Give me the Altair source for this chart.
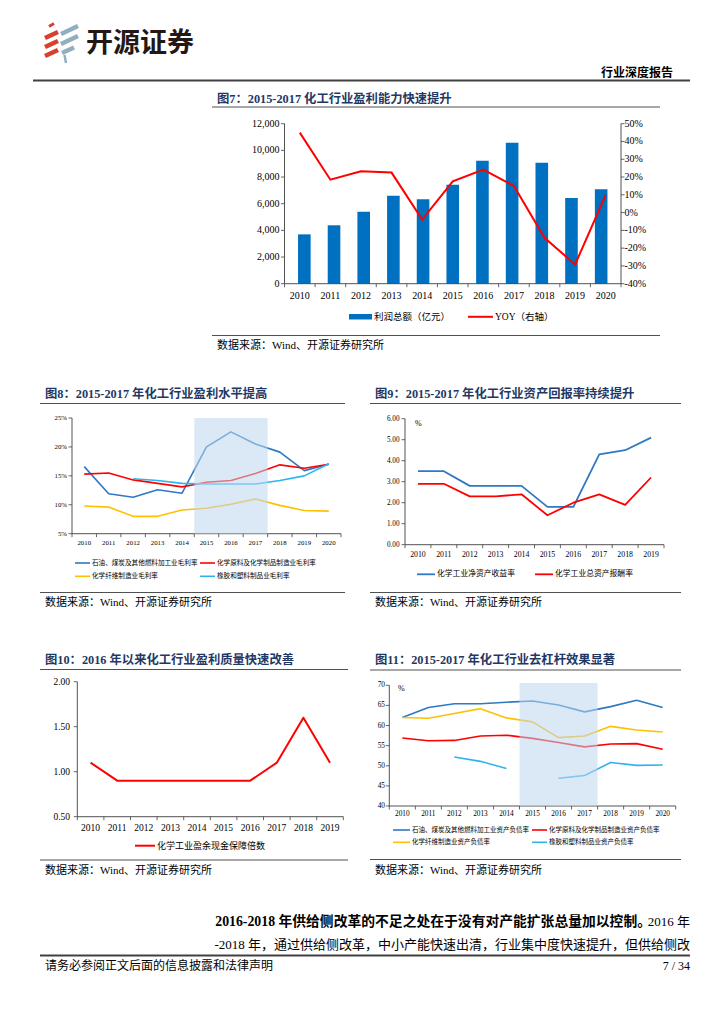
import altair as alt
import pandas as pd

# ---------------- data ----------------
years_a = [2010, 2011, 2012, 2013, 2014, 2015, 2016, 2017, 2018, 2019, 2020]
years_b = [2010, 2011, 2012, 2013, 2014, 2015, 2016, 2017, 2018, 2019]

fig7_profit = [3700, 4380, 5400, 6600, 6330, 7420, 9220, 10580, 9080, 6430, 7080]
fig7_yoy = [45.0, 18.5, 23.2, 22.5, -3.9, 17.6, 24.2, 15.0, -14.2, -29.2, 10.0]
fig7_left_ticks = [0, 2000, 4000, 6000, 8000, 10000, 12000]
fig7_left_labels = ["0", "2,000", "4,000", "6,000", "8,000", "10,000", "12,000"]
fig7_right_ticks = [-40, -30, -20, -10, 0, 10, 20, 30, 40, 50]
fig7_right_labels = ["-40%", "-30%", "-20%", "-10%", "0%", "10%", "20%", "30%", "40%", "50%"]
fig7_legend = ["利润总额（亿元）", "YOY（右轴）"]

fig8_names = ["石油、煤炭及其他燃料加工业毛利率", "化学原料及化学制品制造业毛利率",
              "化学纤维制造业毛利率", "橡胶和塑料制品业毛利率"]
fig8_petro = [16.6, 11.9, 11.3, 12.6, 12.0, 20.0, 22.6, 20.5, 19.1, 15.9, 17.0]
fig8_chem = [15.3, 15.5, 14.3, 13.7, 13.1, 13.9, 14.2, 15.4, 16.9, 16.3, 17.0]
fig8_fiber = [9.8, 9.6, 8.0, 8.0, 9.1, 9.4, 10.1, 11.0, 9.9, 9.0, 8.9]
fig8_rubber = [None, None, 14.5, 14.2, 13.7, 13.6, 13.6, 13.6, 14.2, 15.0, 17.1]
fig8_ticks = [5, 10, 15, 20, 25]
fig8_labels = ["5%", "10%", "15%", "20%", "25%"]
shade_years = [2015, 2017]

fig9_names = ["化学工业净资产收益率", "化学工业总资产报酬率"]
fig9_roe = [3.5, 3.5, 2.8, 2.8, 2.8, 1.8, 1.8, 4.3, 4.5, 5.1]
fig9_roa = [2.9, 2.9, 2.3, 2.3, 2.4, 1.4, 2.0, 2.4, 1.9, 3.2]
fig9_ticks = [0, 1, 2, 3, 4, 5, 6]
fig9_labels = ["0.00", "1.00", "2.00", "3.00", "4.00", "5.00", "6.00"]

fig10_names = ["化学工业盈余现金保障倍数"]
fig10_vals = [1.1, 0.9, 0.9, 0.9, 0.9, 0.9, 0.9, 1.1, 1.6, 1.1]
fig10_ticks = [0.5, 1.0, 1.5, 2.0]
fig10_labels = ["0.50", "1.00", "1.50", "2.00"]

fig11_names = ["石油、煤炭及其他燃料加工业资产负债率", "化学原料及化学制品制造业资产负债率",
               "化学纤维制造业资产负债率", "橡胶和塑料制品业资产负债率"]
fig11_petro = [62.0, 64.5, 65.4, 65.4, 65.8, 66.1, 65.1, 63.4, 64.7, 66.3, 64.5]
fig11_chem = [56.9, 56.2, 56.3, 57.4, 57.6, 56.8, 55.8, 54.7, 55.4, 55.5, 54.1]
fig11_fiber = [62.0, 61.8, 63.0, 64.2, 61.9, 60.9, 57.0, 57.4, 59.8, 58.9, 58.4]
fig11_rubber = [None, None, 52.2, 51.1, 49.3, None, 46.9, 47.6, 50.8, 50.1, 50.2]
fig11_ticks = [40, 45, 50, 55, 60, 65, 70]
fig11_labels = ["40", "45", "50", "55", "60", "65", "70"]

titles = ["图7：2015-2017 化工行业盈利能力快速提升",
          "图8：2015-2017 年化工行业盈利水平提高",
          "图9：2015-2017 年化工行业资产回报率持续提升",
          "图10：2016 年以来化工行业盈利质量快速改善",
          "图11：2015-2017 年化工行业去杠杆效果显著"]
source_text = "数据来源：Wind、开源证券研究所"
body_bold = "2016-2018 年供给侧改革的不足之处在于没有对产能扩张总量加以控制。"
body_tail = "2016 年"
body_line2 = "-2018 年，通过供给侧改革，中小产能快速出清，行业集中度快速提升，但供给侧改"
footer_left = "请务必参阅正文后面的信息披露和法律声明"
footer_right = "7 / 34"
brand = "开源证券"
report_type = "行业深度报告"

# ---------------- style ----------------
SERIF = "Liberation Serif, Noto Sans CJK SC"
SANS = "Noto Sans CJK SC"
AX = "#404040"
TITLE_C = "#1F3864"
BAR_C = "#0070C0"
DBLUE = "#2E78C4"
RED = "#FF0000"
YEL = "#FFC000"
CYAN = "#2DB3F0"
SHADE = "#BDD7EE"
OX, OY = 8, 8


def P(x):
    return x - OX


def Q(y):
    return y - OY


one = pd.DataFrame({"k": [0]})
layers = []


def text(s, x, y, size=10, bold=False, color="#000000", align="left", font=SERIF):
    layers.append(alt.Chart(one).mark_text(
        text=s, align=align, baseline="middle", fontSize=size,
        fontWeight="bold" if bold else "normal", color=color, font=font
    ).encode(x=alt.value(P(x)), y=alt.value(Q(y))))


def hline(x1, x2, y, color=AX, w=1.0):
    layers.append(alt.Chart(one).mark_rule(color=color, strokeWidth=w).encode(
        x=alt.value(P(x1)), x2=alt.value(P(x2)), y=alt.value(Q(y))))


def seg(x1, y1, x2, y2, color, w):
    layers.append(alt.Chart(one).mark_rule(color=color, strokeWidth=w, strokeCap="butt").encode(
        x=alt.value(P(x1)), x2=alt.value(P(x2)), y=alt.value(Q(y1)), y2=alt.value(Q(y2))))


def long_df(years, names, series_list):
    rows = []
    for name, vals in zip(names, series_list):
        s = 0
        for yr, v in zip(years, vals):
            if v is None:
                s += 1
                continue
            rows.append({"year": yr, "val": v, "series": name, "seg": f"{name}-{s}"})
    return pd.DataFrame(rows)


def make_scales(years, xr, ydom, yr):
    def xs():
        return alt.Scale(domain=[years[0] - 0.5, years[-1] + 0.5],
                         range=[P(xr[0]), P(xr[1])], nice=False, zero=False)

    def ys():
        return alt.Scale(domain=ydom, range=[Q(yr[0]), Q(yr[1])], nice=False, zero=False)
    return xs, ys


def frame(years, xr, yr, ys, yticks, ylabels, ylab_x, yfont, xlab_y, xfont, xs):
    x0, x1 = xr
    yb, yt = yr
    layers.append(alt.Chart(one).mark_rule(color=AX, strokeWidth=0.9).encode(
        x=alt.value(P(x0)), y=alt.value(Q(yt)), y2=alt.value(Q(yb))))
    hline(x0, x1, yb, AX, 0.9)
    tdf = pd.DataFrame({"v": yticks, "lab": ylabels})
    layers.append(alt.Chart(tdf).mark_rule(color=AX, strokeWidth=0.8).encode(
        y=alt.Y("v:Q", scale=ys(), axis=None),
        x=alt.value(P(x0 - 3.5)), x2=alt.value(P(x0))))
    layers.append(alt.Chart(tdf).mark_text(align="right", baseline="middle", fontSize=yfont,
                                           font=SERIF, color="#000000").encode(
        y=alt.Y("v:Q", scale=ys(), axis=None), x=alt.value(P(ylab_x)), text="lab:N"))
    bdf = pd.DataFrame({"b": [y - 0.5 for y in years] + [years[-1] + 0.5]})
    layers.append(alt.Chart(bdf).mark_rule(color=AX, strokeWidth=0.8).encode(
        x=alt.X("b:Q", scale=xs(), axis=None),
        y=alt.value(Q(yb)), y2=alt.value(Q(yb + 3.5))))
    ydf = pd.DataFrame({"year": years, "lab": [str(y) for y in years]})
    layers.append(alt.Chart(ydf).mark_text(baseline="middle", align="center", fontSize=xfont,
                                           font=SERIF, color="#000000").encode(
        x=alt.X("year:Q", scale=xs(), axis=None), y=alt.value(Q(xlab_y)), text="lab:N"))


def lines(df, xs, ys, names, colors, w):
    layers.append(alt.Chart(df).mark_line(strokeWidth=w, strokeJoin="round").encode(
        x=alt.X("year:Q", scale=xs(), axis=None),
        y=alt.Y("val:Q", scale=ys(), axis=None),
        color=alt.Color("series:N", scale=alt.Scale(domain=names, range=colors), legend=None),
        detail="seg:N"))


def shade(xs, ys, ydom_lo, ydom_hi):
    sdf = pd.DataFrame({"a": [shade_years[0] - 0.5], "b": [shade_years[1] + 0.5],
                        "lo": [ydom_lo], "hi": [ydom_hi]})
    layers.append(alt.Chart(sdf).mark_rect(color=SHADE, opacity=0.55).encode(
        x=alt.X("a:Q", scale=xs(), axis=None), x2="b:Q",
        y=alt.Y("lo:Q", scale=ys(), axis=None), y2="hi:Q"))


def legend_item(x1, x2, y, color, label, size, w=2.0):
    hline(x1, x2, y, color, w)
    text(label, x2 + 2, y, size)


def block(title, x_left, x_right, ytitle, yline, ybottom, ysource):
    text(title, x_left + 5, ytitle, 12.3, True, TITLE_C)
    hline(x_left, x_right, yline, "#505050", 1.0)
    hline(x_left, x_right, ybottom, "#505050", 1.0)
    text(source_text, x_left + 5, ysource, 11)


# ---------------- header ----------------
RED_LOGO = "#D8402E"
GRAY_LOGO = "#92AFBF"
seg(49, 26.5, 54, 23.5, RED_LOGO, 3)
seg(45, 38, 58, 32, RED_LOGO, 4.5)
seg(45, 47, 58, 41, RED_LOGO, 4.5)
seg(45, 56, 58, 50, RED_LOGO, 4.5)
seg(61, 34, 78, 26, GRAY_LOGO, 4.5)
seg(61, 44, 78, 36, GRAY_LOGO, 4.5)
seg(62, 53, 74, 47.5, GRAY_LOGO, 4.5)
seg(64.5, 55, 66, 63, GRAY_LOGO, 2.5)
text(brand, 86, 44, 27, True, "#231815", font=SANS)
text(report_type, 673, 73, 12, True, "#000000", "right")
hline(33, 690, 80.5, "#404040", 2.0)

# ---------------- figure 7 ----------------
block(titles[0], 212, 660, 99, 107, 335.5, 345.5)
xs7, ys7 = make_scales(years_a, (284.5, 621), [0, 12000], (283.7, 123.7))
_, ys7r = make_scales(years_a, (284.5, 621), [-40, 50], (283.7, 123.7))
df7 = pd.DataFrame({"year": years_a, "profit": fig7_profit, "yoy": fig7_yoy})
layers.append(alt.Chart(df7).mark_bar(size=12.6, color=BAR_C).encode(
    x=alt.X("year:Q", scale=xs7(), axis=None),
    y=alt.Y("profit:Q", scale=ys7(), axis=None)))
frame(years_a, (284.5, 621), (283.7, 123.7), ys7, fig7_left_ticks, fig7_left_labels,
      279.5, 10, 295.5, 10, xs7)
# right axis
layers.append(alt.Chart(one).mark_rule(color=AX, strokeWidth=0.9).encode(
    x=alt.value(P(621)), y=alt.value(Q(123.7)), y2=alt.value(Q(283.7))))
rdf = pd.DataFrame({"v": fig7_right_ticks, "lab": fig7_right_labels})
layers.append(alt.Chart(rdf).mark_rule(color=AX, strokeWidth=0.8).encode(
    y=alt.Y("v:Q", scale=ys7r(), axis=None), x=alt.value(P(621)), x2=alt.value(P(624.5))))
layers.append(alt.Chart(rdf).mark_text(align="left", baseline="middle", fontSize=10,
                                       font=SERIF, color="#000000").encode(
    y=alt.Y("v:Q", scale=ys7r(), axis=None), x=alt.value(P(624.5)), text="lab:N"))
layers.append(alt.Chart(df7).mark_line(color=RED, strokeWidth=2.0).encode(
    x=alt.X("year:Q", scale=xs7(), axis=None),
    y=alt.Y("yoy:Q", scale=ys7r(), axis=None)))
# legend
layers.append(alt.Chart(one).mark_rect(color=BAR_C).encode(
    x=alt.value(P(349)), x2=alt.value(P(372)), y=alt.value(Q(314)), y2=alt.value(Q(319.5))))
text(fig7_legend[0], 374, 317, 9.5)
legend_item(468, 493, 316.8, RED, fig7_legend[1], 9.5, 2.0)

# ---------------- figure 8 ----------------
block(titles[1], 40, 345, 393.5, 403.5, 592.5, 603)
xs8, ys8 = make_scales(years_a, (72, 341), [5, 25], (533.7, 418))
frame(years_a, (72, 341), (533.7, 418), ys8, fig8_ticks, fig8_labels, 67, 6.8, 542.5, 6.8, xs8)
colors4 = [DBLUE, RED, YEL, CYAN]
df8 = long_df(years_a, fig8_names, [fig8_petro, fig8_chem, fig8_fiber, fig8_rubber])
lines(df8, xs8, ys8, fig8_names, colors4, 1.6)
shade(xs8, ys8, 5, 25)
legend_item(75, 90, 563, DBLUE, fig8_names[0], 6.6, 1.6)
legend_item(200, 215, 563, RED, fig8_names[1], 6.6, 1.6)
legend_item(75, 90, 576.3, YEL, fig8_names[2], 6.6, 1.6)
legend_item(200, 215, 576.3, CYAN, fig8_names[3], 6.6, 1.6)

# ---------------- figure 9 ----------------
block(titles[2], 370, 681, 393.5, 403.5, 592.5, 603)
xs9, ys9 = make_scales(years_b, (405, 664), [0, 6], (544.7, 418.7))
frame(years_b, (405, 664), (544.7, 418.7), ys9, fig9_ticks, fig9_labels, 399.5, 7.2, 555, 7.8, xs9)
text("%", 415, 423.5, 8)
df9 = long_df(years_b, fig9_names, [fig9_roe, fig9_roa])
lines(df9, xs9, ys9, fig9_names, [DBLUE, RED], 1.8)
legend_item(417, 435, 574.3, DBLUE, fig9_names[0], 7.8, 1.8)
legend_item(535, 553, 574.3, RED, fig9_names[1], 7.8, 1.8)

# ---------------- figure 10 ----------------
block(titles[3], 40, 348, 660, 669.5, 860, 870.5)
xs10, ys10 = make_scales(years_b, (77.3, 343.3), [0.5, 2.0], (816.7, 681.7))
frame(years_b, (77.3, 343.3), (816.7, 681.7), ys10, fig10_ticks, fig10_labels, 70, 9.5, 828, 9.5, xs10)
df10 = long_df(years_b, fig10_names, [fig10_vals])
lines(df10, xs10, ys10, fig10_names, [RED], 2.0)
legend_item(135, 155, 845.7, RED, fig10_names[0], 9, 2.0)

# ---------------- figure 11 ----------------
block(titles[4], 370, 681, 660, 670, 859.5, 871)
xs11, ys11 = make_scales(years_a, (389.3, 675.7), [40, 70], (806, 685.3))
frame(years_a, (389.3, 675.7), (806, 685.3), ys11, fig11_ticks, fig11_labels, 385, 7.3, 814, 7.3, xs11)
text("%", 398, 689, 8)
df11 = long_df(years_a, fig11_names, [fig11_petro, fig11_chem, fig11_fiber, fig11_rubber])
lines(df11, xs11, ys11, fig11_names, colors4, 1.6)
shade(xs11, ys11, 40, 70.6)
legend_item(393, 410, 830, DBLUE, fig11_names[0], 6.5, 1.6)
legend_item(532, 547, 830, RED, fig11_names[1], 6.5, 1.6)
legend_item(393, 410, 842.3, YEL, fig11_names[2], 6.5, 1.6)
legend_item(532, 547, 842.3, CYAN, fig11_names[3], 6.5, 1.6)

# ---------------- body text & footer ----------------
text(body_bold, 651, 922, 13.8, True, "#000000", "right")
text(body_tail, 690, 922, 13, False, "#000000", "right")
text(body_line2, 690, 944.5, 13, False, "#000000", "right")
hline(40, 690, 955.5, "#404040", 2.0)
text(footer_left, 45, 966, 12)
text(footer_right, 690, 966, 12, align="right")

chart = alt.layer(*layers).resolve_scale(
    x="independent", y="independent", color="independent"
).properties(
    width=708, height=1008,
    autosize=alt.AutoSizeParams(type="none"),
    padding=0,
).configure_view(strokeWidth=0)

chart.save("out.html", embed_options={"renderer": "svg", "actions": False})
